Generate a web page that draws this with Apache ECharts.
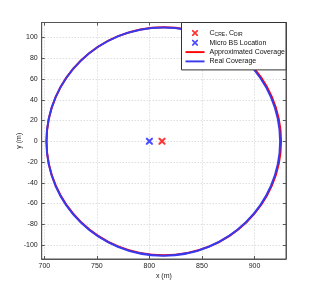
<!DOCTYPE html>
<html><head><meta charset="utf-8">
<script src="https://cdn.jsdelivr.net/npm/echarts@6/dist/echarts.min.js"></script>
<style>html,body{margin:0;padding:0;background:#fff}#c{width:316px;height:293px}</style>
</head><body><div id="c"></div>
<script>
// ---- data ----
const xTicks = [700, 750, 800, 850, 900];
const yTicks = [-100, -80, -60, -40, -20, 0, 20, 40, 60, 80, 100];
const xRange = [697.5, 930];
const yRange = [-113.5, 114.5];
const markerNames = ['C_CRE, C_DIR', 'Micro BS Location'];
const markerX = [812, 800];
const markerY = [0, 0];
const coverageNames = ['Approximated Coverage', 'Real Coverage'];
const coverageCenterX = [813.7, 813.2];
const coverageCenterY = [0, -0.3];
const coverageRadiusX = [111.6, 111.2];
const coverageRadiusY = [110, 110];

const markerColors = ['#ff0000', '#2020ff'];
const coverageColors = ['#ff0000', '#3838ee'];
const xPath = 'path://M0,0 L2,0 L5,3 L8,0 L10,0 L10,2 L7,5 L10,8 L10,10 L8,10 L5,7 L2,10 L0,10 L0,8 L3,5 L0,2 Z';
const font = "'Liberation Sans', Arial, sans-serif";

const chart = echarts.init(document.getElementById('c'));
const axisLine = {show: true, onZero: false, lineStyle: {color: '#555', width: 1}};
const tick = (vals) => ({show: true, inside: true, length: 3, lineStyle: {color: '#555'}, customValues: vals});
const split = {show: true, lineStyle: {color: '#cfcfcf', type: [1, 2], width: 1}};

const series = [];
coverageNames.forEach((n, i) => {
  series.push({
    type: 'custom', name: n, xAxisIndex: 0, yAxisIndex: 0, z: 2 + i,
    itemStyle: {color: coverageColors[i]},
    data: [[coverageCenterX[i], coverageCenterY[i], coverageRadiusX[i], coverageRadiusY[i]]],
    encode: {x: 0, y: 1},
    renderItem: function (params, api) {
      const c = api.coord([api.value(0), api.value(1)]);
      const s = api.size([api.value(2), api.value(3)]);
      return {type: 'ellipse', shape: {cx: c[0], cy: c[1], rx: s[0], ry: s[1]},
        style: {fill: 'none', stroke: coverageColors[i], lineWidth: 2}};
    }
  });
});
markerNames.forEach((n, i) => {
  series.push({
    type: 'scatter', name: n, z: 5, symbol: xPath, symbolSize: 7,
    itemStyle: {color: markerColors[i]},
    data: [[markerX[i], markerY[i]]]
  });
});

chart.setOption({
  animation: false,
  textStyle: {fontFamily: font},
  grid: {left: 41.7, right: 30, top: 22.5, bottom: 34, outerBoundsMode: 'none', containLabel: false,
    show: true, borderColor: '#555', borderWidth: 1, backgroundColor: '#fff'},
  xAxis: [{
    type: 'value', min: xRange[0], max: xRange[1], position: 'bottom',
    name: 'x (m)', nameLocation: 'middle', nameGap: 13.5, nameMoveOverlap: false,
    nameTextStyle: {fontSize: 7, color: '#222', fontFamily: font},
    axisLine: axisLine, axisTick: tick(xTicks), splitLine: split,
    axisLabel: {customValues: xTicks, fontSize: 7, color: '#222', margin: 4, fontFamily: font}
  }, {
    type: 'value', min: xRange[0], max: xRange[1], position: 'top',
    axisLine: axisLine, axisTick: tick(xTicks), splitLine: {show: false}, axisLabel: {show: false}
  }],
  yAxis: [{
    type: 'value', min: yRange[0], max: yRange[1], position: 'left',
    name: 'y (m)', nameLocation: 'middle', nameGap: 19, nameMoveOverlap: false,
    nameTextStyle: {fontSize: 7, color: '#222', fontFamily: font},
    axisLine: axisLine, axisTick: tick(yTicks), splitLine: split,
    axisLabel: {customValues: yTicks, fontSize: 7, color: '#222', margin: 4, fontFamily: font}
  }, {
    type: 'value', min: yRange[0], max: yRange[1], position: 'right',
    axisLine: axisLine, axisTick: tick(yTicks), splitLine: {show: false}, axisLabel: {show: false}
  }],
  legend: {
    orient: 'vertical', right: 30, top: 22.5, z: 10,
    backgroundColor: '#fff', borderColor: '#333', borderWidth: 1, borderRadius: 0,
    padding: [6.5, 1, 5, 4], itemWidth: 19, itemHeight: 6, itemGap: 2.3,
    textStyle: {fontSize: 7, color: '#111', fontFamily: font,
      rich: {n: {fontSize: 7, color: '#111', fontFamily: font, lineHeight: 8},
             s: {fontSize: 5, color: '#111', fontFamily: font, padding: [3, 0, 0, 0], lineHeight: 5}}},
    formatter: function (name) {
      if (name === markerNames[0]) return '{n|C}{s|CRE}{n|, C}{s|DIR}';
      return name;
    },
    data: [
      {name: markerNames[0], icon: xPath},
      {name: markerNames[1], icon: xPath},
      {name: coverageNames[0], icon: 'path://M0,0 L20,0 L20,2 L0,2 Z'},
      {name: coverageNames[1], icon: 'path://M0,0 L20,0 L20,2 L0,2 Z'}
    ]
  },
  series: series
});
</script></body></html>
